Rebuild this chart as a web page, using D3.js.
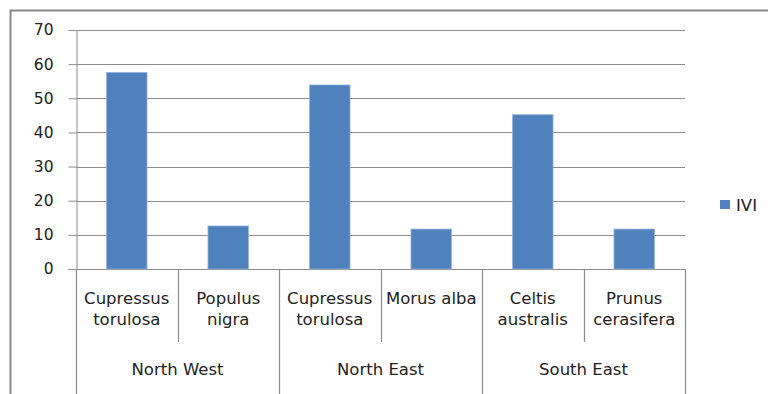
<!DOCTYPE html>
<html>
<head>
<meta charset="utf-8">
<script src="https://cdn.jsdelivr.net/npm/d3@7/dist/d3.min.js"></script>
<style>
  html, body { margin: 0; padding: 0; background: #fff; }
  svg { display: block; }
</style>
</head>
<body>
<svg id="chart" width="768" height="394"></svg>
<script>
// Importance Value Index of dominant species by region
const regions = ["North West", "North East", "South East"];
const species = [
  ["Cupressus", "torulosa"],
  ["Populus", "nigra"],
  ["Cupressus", "torulosa"],
  ["Morus alba"],
  ["Celtis", "australis"],
  ["Prunus", "cerasifera"]
];
const speciesRegion = [0, 0, 1, 1, 2, 2];
const ivi = [57.6, 12.6, 53.9, 11.7, 45.2, 11.7];
const yTicks = [0, 10, 20, 30, 40, 50, 60, 70];
const seriesName = "IVI";

const svg = d3.select("#chart");
const plot = { left: 76, right: 685, top: 30, bottom: 269 };
const barColor = "#4f81bd";
const gridColor = "#8c8c8c";
const labelFont = "'DejaVu Sans', sans-serif";
const labelSize = "16.5px";

// chart frame (left and top edges)
svg.append("path")
  .attr("d", `M10.5,394 L10.5,10.5 L768,10.5`)
  .attr("fill", "none")
  .attr("stroke", "#8a8a8a")
  .attr("stroke-width", 2);

const x = d3.scaleBand()
  .domain(d3.range(ivi.length))
  .range([plot.left, plot.right])
  .paddingInner(0.6)
  .paddingOuter(0.3);

const y = d3.scaleLinear().domain([0, 70]).range([plot.bottom, plot.top]);

// horizontal gridlines
svg.append("g")
  .selectAll("line")
  .data(yTicks)
  .join("line")
  .attr("x1", plot.left)
  .attr("x2", plot.right)
  .attr("y1", d => Math.round(y(d)) + 0.5)
  .attr("y2", d => Math.round(y(d)) + 0.5)
  .attr("stroke", gridColor)
  .attr("stroke-width", 1);

// value axis
const yAxis = svg.append("g")
  .attr("transform", `translate(${plot.left + 0.5},0)`)
  .call(d3.axisLeft(y).tickValues(yTicks).tickSize(8).tickPadding(15).tickSizeOuter(0));
yAxis.select(".domain").attr("stroke", gridColor);
yAxis.selectAll(".tick line").attr("stroke", gridColor);
yAxis.selectAll(".tick text")
  .attr("fill", "#222")
  .style("font-family", "'DejaVu Sans', sans-serif")
  .style("font-size", "15.5px");

// bars
svg.append("g")
  .selectAll("rect")
  .data(ivi)
  .join("rect")
  .attr("x", (d, i) => x(i))
  .attr("width", x.bandwidth())
  .attr("y", d => y(d))
  .attr("height", d => y(0) - y(d))
  .attr("fill", barColor)
  .attr("stroke", "#9bb7dc")
  .attr("stroke-width", 0.8);

// category axis: species row and region row
const catEdge = i => plot.left + i * (plot.right - plot.left) / ivi.length;
const cat = svg.append("g");

// separators between species (short) and regions (long)
d3.range(ivi.length + 1).forEach(i => {
  const isRegionEdge = i === 0 || i === ivi.length || speciesRegion[i] !== speciesRegion[i - 1];
  const xx = Math.round(catEdge(i)) + 0.5;
  cat.append("line")
    .attr("x1", xx).attr("x2", xx)
    .attr("y1", plot.bottom)
    .attr("y2", isRegionEdge ? 394 : 342)
    .attr("stroke", gridColor)
    .attr("stroke-width", 1.2);
});

// species labels
species.forEach((lines, i) => {
  const cx = (catEdge(i) + catEdge(i + 1)) / 2;
  const t = cat.append("text")
    .attr("x", cx)
    .attr("y", 304)
    .attr("text-anchor", "middle")
    .attr("fill", "#222")
    .style("font-family", labelFont)
    .style("font-size", labelSize);
  lines.forEach((ln, k) => {
    t.append("tspan").attr("x", cx).attr("dy", k === 0 ? 0 : 21).text(ln);
  });
});

// region labels
regions.forEach((r, g) => {
  const idx = speciesRegion.map((v, i) => v === g ? i : -1).filter(i => i >= 0);
  const cx = (catEdge(idx[0]) + catEdge(idx[idx.length - 1] + 1)) / 2;
  cat.append("text")
    .attr("x", cx)
    .attr("y", 375)
    .attr("text-anchor", "middle")
    .attr("fill", "#222")
    .style("font-family", labelFont)
    .style("font-size", labelSize)
    .text(r);
});

// legend
const legend = svg.append("g").attr("transform", "translate(720,200)");
legend.append("rect")
  .attr("width", 10).attr("height", 9)
  .attr("fill", barColor);
legend.append("text")
  .attr("x", 16).attr("y", 11)
  .attr("fill", "#222")
  .style("font-family", labelFont)
  .style("font-size", labelSize)
  .text(seriesName);
</script>
</body>
</html>
